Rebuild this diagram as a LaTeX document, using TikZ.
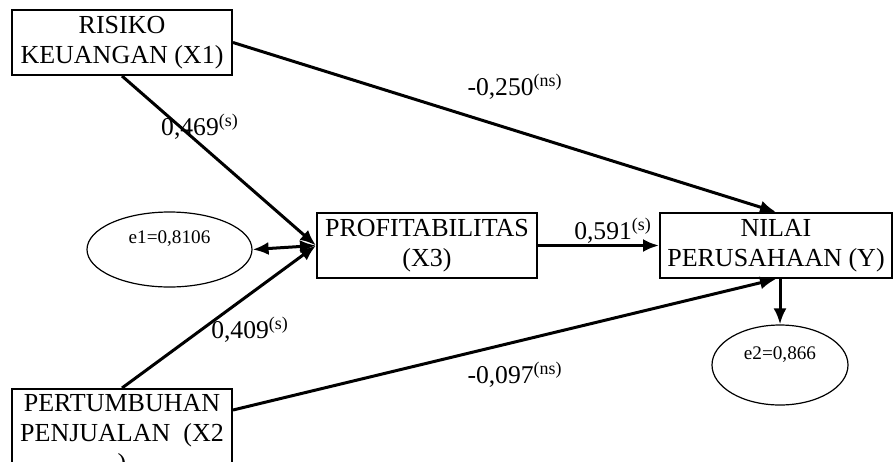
\documentclass[tikz,border=0pt]{standalone}
\usepackage{fontspec}
\setmainfont{Liberation Serif}
\usepackage{tikz}
\usetikzlibrary{positioning,arrows.meta,shapes.geometric}

\begin{document}
\begin{tikzpicture}[x=0.5pt,y=-0.5pt,
box/.style={draw,line width=1pt,rectangle,minimum width=110pt,minimum height=32.5pt,
    inner sep=0pt,align=center,font=\fontsize{13}{15}\selectfont},
err/.style={draw,ellipse,line width=.6pt,inner sep=0pt,text depth=12pt,
    font=\fontsize{9.6}{11}\selectfont},
coef/.style={inner sep=0pt,font=\fontsize{12.8}{15}\selectfont},
effect/.style={line width=1.5pt,-{Latex[length=8pt,width=6.5pt]}},
both/.style={line width=1.5pt,{Latex[length=8pt,width=6.5pt]}-{Latex[length=8pt,width=6.5pt]}}]
\useasboundingbox (0,0) rectangle (893,461);
\clip (0,0) rectangle (893,461);

\node (x1) [box] at (122,42.5) {RISIKO\\KEUANGAN (X1)};
\node (x2) [box,anchor=north,inner ysep=2.5pt] at (122,388) {PERTUMBUHAN\\PENJUALAN\ \ (X2\\)};
\node (x3) [box] at (427,245.5) {PROFITABILITAS\\(X3)};
\node (y) [box,minimum width=116pt] at (776,245.5) {NILAI\\PERUSAHAAN (Y)};
\node (e1) [err,minimum width=82.5pt,minimum height=37.5pt] at (169.5,249.5) {e1=0,8106};
\node (e2) [err,minimum width=68pt,minimum height=40pt] at (780,365) {e2=0,866};

\draw[effect] (x1.south) -- (x3.west);
\draw[effect] (x2.north) -- (x3.west);
\draw[both] (e1.east) -- (x3.west);
\draw[effect] (x1.east) -- (y.north);
\draw[effect] ([yshift=-11pt]x2.north east) -- (y.south);
\draw[effect] (x3) -- (y);
\draw[effect] (y.south -| e2.north) -- (e2.north);

\node (b1) [coef] at (200,127) {0,469\textsuperscript{(s)}};
\node (b2) [coef] at (515,87) {-0,250\textsuperscript{(ns)}};
\node (b3) [coef] at (613,231) {0,591\textsuperscript{(s)}};
\node (b4) [coef] at (250,330) {0,409\textsuperscript{(s)}};
\node (b5) [coef] at (515,375) {-0,097\textsuperscript{(ns)}};
\end{tikzpicture}
\end{document}
